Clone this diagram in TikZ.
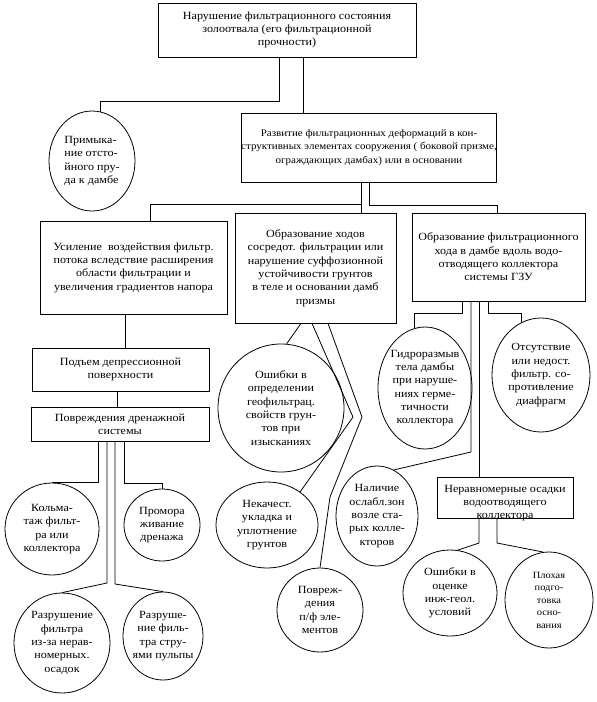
\documentclass[tikz,border=0pt]{standalone}
\usepackage{fontspec}
\setmainfont[FakeStretch=1.1]{Liberation Serif}
\usetikzlibrary{shapes.geometric}
\newcommand\fA{\fontsize{11}{13.3}\selectfont}
\newcommand\fB{\fontsize{10}{13.5}\selectfont}
\newcommand\fC{\fontsize{9.5}{12.5}\selectfont}
\begin{document}
\begin{tikzpicture}[x=1pt,y=-1pt,line width=0.8pt,
  box/.style={draw,align=center,inner sep=0pt,font=\fA},
  oval/.style={draw,ellipse,align=center,inner sep=-6pt,font=\fA}]
\useasboundingbox (0,0) rectangle (597,702);
% boxes
\node[box,minimum width=258pt,minimum height=54pt] (top) at (287,30) {Нарушение фильтрационного состояния\\золоотвала (его фильтрационной\\прочности)};
\node[box,font=\fB,minimum width=252pt,minimum height=69pt] (razv) at (369,147.5) {Развитие фильтрационных деформаций в кон-\\структивных элементах сооружения ( боковой призме,\\ограждающих дамбах) или в основании};
\node[box,minimum width=187pt,minimum height=93pt] (usil) at (133.5,267.5) {Усиление\ \ воздействия фильтр.\\потока вследствие расширения\\области фильтрации и\\увеличения градиентов напора};
\node[box,minimum width=161pt,minimum height=110pt] (mid) at (315.5,268) {Образование ходов\\сосредот. фильтрации или\\нарушение суффозионной\\устойчивости грунтов\\в теле и основании дамб\\призмы};
\node[box,minimum width=173pt,minimum height=88pt] (rbox) at (498.5,257) {Образование фильтрационного\\хода в дамбе вдоль водо-\\отводящего коллектора\\системы ГЗУ};
\node[box,minimum width=177pt,minimum height=43pt] (podem) at (120.5,369.5) {Подъем депрессионной\\поверхности};
\node[box,minimum width=178pt,minimum height=34pt] (povr) at (120,424) {Повреждения дренажной\\системы};
\node[draw,minimum width=136pt,minimum height=41pt,inner sep=0pt] (nerav) at (505,497.5) {};
\node[font=\fA,align=center,inner sep=0pt] (neravT) at (505,503) {Неравномерные осадки\\водоотводящего\\коллектора};
% ovals
\node[oval,align=left,minimum width=86pt,minimum height=100pt] (prim) at (92,161) {Примыка-\\ние отсто-\\йного пру-\\да к дамбе};
\node[oval,minimum width=94pt,minimum height=92pt] (kolm) at (52,529) {Кольма-\\таж фильт-\\ра или\\коллектора};
\node[oval,minimum width=76pt,minimum height=72pt] (prom) at (162,525) {Промора\\живание\\дренажа};
\node[oval,minimum width=96pt,minimum height=100pt] (razr1) at (62,643) {Разрушение\\фильтра\\из-за нерав-\\номерных.\\осадок};
\node[oval,minimum width=80pt,minimum height=88pt] (razr2) at (163,636) {Разруше-\\ние филь-\\тра стру-\\ями пульпы};
\node[oval,minimum width=126pt,minimum height=128pt] (osh1) at (281,408) {Ошибки в\\определении\\геофильтрац.\\свойств грун-\\тов при\\изысканиях};
\node[oval,minimum width=102pt,minimum height=86pt] (nek) at (267,525) {Некачест.\\укладка и\\уплотнение\\грунтов};
\node[oval,minimum width=86pt,minimum height=84pt] (pvpf) at (320,610) {Повреж-\\дения\\п/ф эле-\\ментов};
\node[oval,minimum width=94pt,minimum height=122pt] (gidro) at (425,388) {Гидроразмыв\\тела дамбы\\при наруше-\\ниях герме-\\тичности\\коллектора};
\node[oval,minimum width=98pt,minimum height=114pt] (otsut) at (541,375) {Отсутствие\\или недост.\\фильтр. со-\\противление\\диафрагм};
\node[oval,minimum width=82pt,minimum height=100pt] (nal) at (377,516) {Наличие\\ослабл.зон\\возле ста-\\рых колле-\\кторов};
\node[oval,minimum width=94pt,minimum height=86pt] (osh2) at (450,593) {Ошибки в\\оценке\\инж-геол.\\условий};
\node[oval,font=\fC,minimum width=88pt,minimum height=96pt] (plo) at (549,600) {Плохая\\подго-\\товка\\осно-\\вания};
% connectors
\draw (top.south -| 279,0) |- (prim.80 |- 0,101) -- (prim.80);
\draw (top.south -| 303,0) -- (razv.north -| 303,0);
\draw (razv.south -| 361,0) -- (mid.north -| 361,0);
\draw (razv.south -| 361,0) |- (150,204) -- (usil.north -| 150,0);
\draw (razv.south -| 369,0) |- (497,205) -- (rbox.north -| 497,0);
\draw (usil.south -| 125,0) -- (podem.north -| 125,0);
\draw (podem.south -| 117,0) -- (povr.north -| 117,0);
\draw (povr.south -| 98,0) |- (kolm.north);
\draw (povr.south -| 107,0) -- (107,583) -- (razr1.north);
\draw (povr.south -| 115,0) -- (115,584) -- (razr2.north);
\draw (povr.south -| 124,0) |- (prom.north |- 0,483) -- (prom.north);
\draw (mid.south -| 301,0) -- (osh1.85);
\draw (mid.south -| 312,0) -- (353,417) -- (nek.45);
\draw (mid.south -| 328,0) -- (362,417) -- (330,497) -- (pvpf.north);
\draw (rbox.south -| 462,0) |- (gidro.100 |- 0,313) -- (gidro.100);
\draw (rbox.south -| 471,0) -- (471,452) -- (nal.70);
\draw (rbox.south -| 479,0) -- (nerav.north -| 479,0);
\draw (rbox.south -| 488,0) |- (otsut.110 |- 0,313) -- (otsut.110);
\draw (nerav.south -| 479,0) -- (479,543) -- (osh2.80);
\draw (nerav.south -| 497,0) -- (497,543) -- (plo.97);
\end{tikzpicture}
\end{document}
